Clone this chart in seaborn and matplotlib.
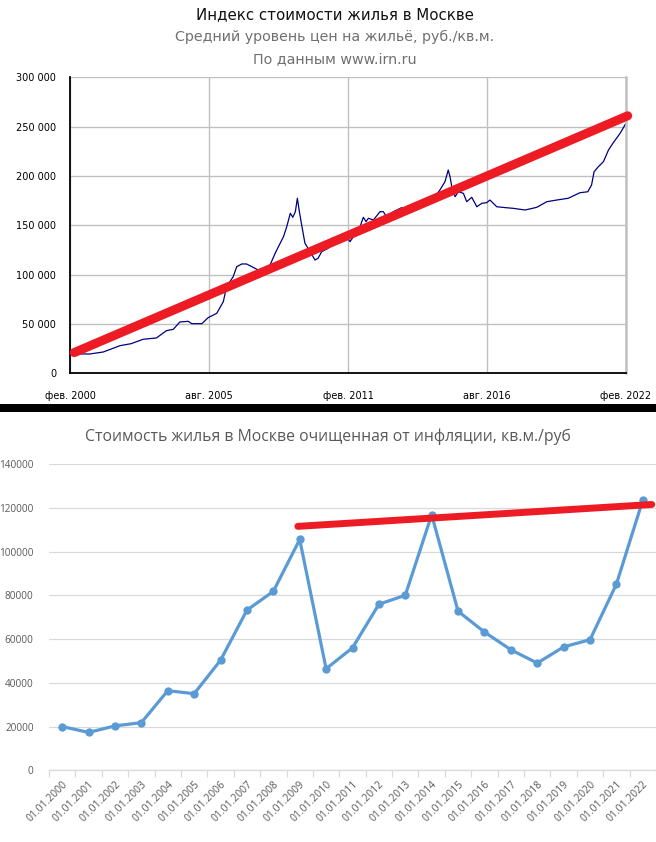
import seaborn as sns
import matplotlib.pyplot as plt
from matplotlib.patches import Rectangle
from matplotlib.ticker import FuncFormatter, MultipleLocator, FixedLocator
from matplotlib import font_manager

# --- top chart: irn.ru price index, rub per sq.m ---
irn_years = [2000.08, 2000.40, 2000.87, 2001.40, 2002.06, 2002.50, 2002.98, 2003.50,
             2003.90, 2004.17, 2004.43, 2004.76, 2004.90, 2005.30, 2005.55, 2005.89,
             2006.15, 2006.28, 2006.54, 2006.68, 2006.88, 2007.07, 2007.33, 2007.53,
             2007.80, 2008.00, 2008.20, 2008.33, 2008.53, 2008.66, 2008.80, 2008.90,
             2009.00, 2009.08, 2009.16, 2009.25, 2009.38, 2009.50, 2009.78, 2009.90,
             2010.04, 2010.30, 2010.44, 2010.70, 2011.03, 2011.16, 2011.30, 2011.56,
             2011.69, 2011.80, 2011.89, 2012.09, 2012.35, 2012.48, 2012.61, 2012.88,
             2013.20, 2013.47, 2013.80, 2014.26, 2014.72, 2014.92, 2015.05, 2015.12,
             2015.19, 2015.32, 2015.45, 2015.65, 2015.78, 2015.98, 2016.18, 2016.38,
             2016.57, 2016.70, 2016.97, 2017.36, 2017.62, 2018.09, 2018.55, 2018.95,
             2019.34, 2019.80, 2020.07, 2020.26, 2020.57, 2020.72, 2020.82, 2020.99,
             2021.19, 2021.39, 2021.58, 2021.85, 2022.08]
irn_prices = [19500, 19600, 19600, 21600, 28000, 30000, 34500, 35800,
              43200, 44600, 52000, 52700, 50300, 50300, 56400, 60800,
              72600, 87800, 97900, 108000, 110800, 110800, 107400, 104700,
              104000, 109800, 121600, 128300, 138400, 148600, 162200, 158100,
              163800, 177400, 163800, 150300, 131800, 126700, 114800, 116600,
              123200, 126700, 136800, 135100, 138400, 133400, 138400, 148600,
              158100, 153700, 157100, 155400, 163800, 163800, 158700, 163800,
              167800, 167200, 170600, 170600, 185800, 194200, 206000, 199300,
              189100, 179000, 184000, 182400, 173900, 178400, 168800, 172300,
              172900, 175600, 168800, 167800, 167200, 165500, 168200, 173900,
              175600, 177400, 180700, 183000, 184000, 190800, 204300, 209400,
              214500, 226300, 233700, 243200, 253400]
irn_trend_years = [2000.25, 2022.15]
irn_trend_prices = [21000, 261000]
irn_tick_years = [2000 + 1 / 12, 2005 + 7 / 12, 2011 + 1 / 12, 2016 + 7 / 12, 2022 + 1 / 12]
irn_tick_labels = ["фев. 2000", "авг. 2005", "фев. 2011", "авг. 2016", "фев. 2022"]

# --- bottom chart: inflation adjusted price ---
real_dates = ["01.01.2000", "01.01.2001", "01.01.2002", "01.01.2003", "01.01.2004",
              "01.01.2005", "01.01.2006", "01.01.2007", "01.01.2008", "01.01.2009",
              "01.01.2010", "01.01.2011", "01.01.2012", "01.01.2013", "01.01.2014",
              "01.01.2015", "01.01.2016", "01.01.2017", "01.01.2018", "01.01.2019",
              "01.01.2020", "01.01.2021", "01.01.2022"]
real_prices = [20000, 17300, 20300, 21800, 36400, 35000, 50300, 73200, 81800, 105500,
               46400, 56000, 75900, 80000, 116800, 72700, 63200, 55100, 49000, 56400,
               59700, 85100, 123500]
real_trend_pos = [8.93, 22.34]
real_trend_prices = [111500, 121500]

sns.set_theme(style="white")
plt.rcParams['font.family'] = ['DejaVu Sans']

names = {f.name for f in font_manager.fontManager.ttflist}
narrow = 'Liberation Sans Narrow' if 'Liberation Sans Narrow' in names else 'Open Sans'

W, H = 656, 842
fig = plt.figure(figsize=(W / 100, H / 100), dpi=100)

# ---------------- top chart ----------------
ax1 = fig.add_axes([70 / W, 1 - 373.3 / H, 556 / W, 296 / H])
sns.lineplot(x=irn_years, y=irn_prices, ax=ax1, color='#000080', linewidth=0.9)
sns.lineplot(x=irn_trend_years, y=irn_trend_prices, ax=ax1, color='#ed1c24',
             linewidth=6.5, solid_capstyle='round', clip_on=False, zorder=5)
ax1.set_xlim(irn_tick_years[0], irn_tick_years[-1])
ax1.set_ylim(0, 300000)
ax1.xaxis.set_major_locator(FixedLocator(irn_tick_years))
ax1.set_xticklabels(irn_tick_labels)
step = (irn_tick_years[1] - irn_tick_years[0]) / 3
ax1.xaxis.set_minor_locator(FixedLocator([irn_tick_years[0] + step * i for i in range(13)]))
ax1.yaxis.set_major_locator(MultipleLocator(50000))
ax1.yaxis.set_minor_locator(MultipleLocator(10000))
ax1.yaxis.set_major_formatter(FuncFormatter(lambda v, p: f"{int(v):,}".replace(",", " ")))
ax1.grid(True, which='major', color='#c0c0c0', linewidth=1)
ax1.tick_params(axis='both', which='both', direction='in', color='black', width=1,
                labelsize=7, labelcolor='black')
ax1.tick_params(axis='y', which='major', length=7, pad=10)
ax1.tick_params(axis='y', which='minor', length=4)
ax1.tick_params(axis='x', which='both', length=4, pad=13)
for s in ['left', 'bottom']:
    ax1.spines[s].set_color('black')
    ax1.spines[s].set_linewidth(1.3)
ax1.spines['top'].set_visible(False)
ax1.spines['right'].set_color('#c0c0c0')
ax1.spines['right'].set_linewidth(1.8)
ax1.set_xlabel('')
ax1.set_ylabel('')

fig.text(0.51, 1 - 15 / H, "Индекс стоимости жилья в Москве", ha='center', va='center',
         fontsize=10.8, color='#111111')
fig.text(0.51, 1 - 37 / H, "Средний уровень цен на жильё, руб./кв.м.", ha='center',
         va='center', fontsize=10.3, color='#707070')
fig.text(0.51, 1 - 59 / H, "По данным www.irn.ru", ha='center', va='center',
         fontsize=10.3, color='#707070')

# black separator
fig.patches.append(Rectangle((0, 1 - 412 / H), 1, 8 / H, transform=fig.transFigure,
                             facecolor='black', edgecolor='none'))

# ---------------- bottom chart ----------------
ax2 = fig.add_axes([49 / W, 1 - 770.3 / H, 607 / W, 306.3 / H])
pos = list(range(len(real_dates)))
sns.lineplot(x=pos, y=real_prices, ax=ax2, color='#5b9bd5', linewidth=2.3, marker='o',
             markersize=6, markeredgewidth=0, zorder=3)
sns.lineplot(x=real_trend_pos, y=real_trend_prices, ax=ax2, color='#ed1c24',
             linewidth=5, clip_on=False, zorder=5)
ax2.set_xlim(-0.5, len(real_dates) - 0.5)
ax2.set_ylim(0, 140000)
ax2.yaxis.set_major_locator(MultipleLocator(20000))
ax2.grid(True, axis='y', color='#d9d9d9', linewidth=0.9)
ax2.set_xticks(pos)
ax2.set_xticklabels(real_dates, rotation=45, ha='right', rotation_mode='anchor')
ax2.xaxis.set_minor_locator(FixedLocator([p - 0.5 for p in pos] + [pos[-1] + 0.5]))
ax2.tick_params(axis='x', which='major', length=0, pad=6, labelsize=7.5,
                labelcolor='#595959')
ax2.tick_params(axis='x', which='minor', length=5, width=0.9, color='#d9d9d9',
                direction='out', bottom=True)
ax2.tick_params(axis='y', length=0, pad=11, labelsize=7.2, labelcolor='#595959')
for lab in ax2.get_xticklabels() + ax2.get_yticklabels():
    lab.set_fontfamily(narrow)
for s in ['left', 'top', 'right']:
    ax2.spines[s].set_visible(False)
ax2.spines['bottom'].set_color('#d9d9d9')
ax2.spines['bottom'].set_linewidth(0.9)
ax2.set_xlabel('')
ax2.set_ylabel('')

fig.text(328 / W, 1 - 437 / H, "Стоимость жилья в Москве очищенная от инфляции, кв.м./руб",
         ha='center', va='center', fontsize=11.3, color='#595959', family=narrow)

fig.savefig('out.png', dpi=100)
